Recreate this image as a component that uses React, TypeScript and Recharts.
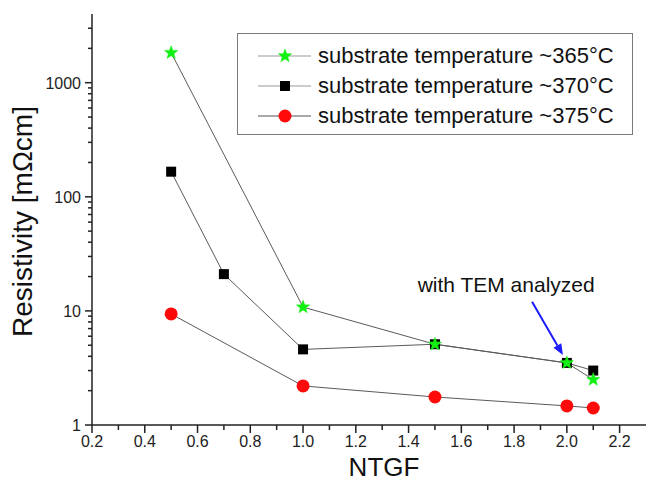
import React from 'react';
import {
  LineChart,
  Line,
  XAxis,
  YAxis,
  Legend,
  ReferenceLine,
  ReferenceDot,
} from 'recharts';

// NTGF values and resistivity [mOhm cm] for the three substrate temperatures
const NTGF_365 = [0.5, 1.0, 1.5, 2.0, 2.1];
const RHO_365 = [1830, 10.8, 5.1, 3.5, 2.5];

const NTGF_370 = [0.5, 0.7, 1.0, 1.5, 2.0, 2.1];
const RHO_370 = [166, 21, 4.6, 5.1, 3.5, 3.0];

const NTGF_375 = [0.5, 1.0, 1.5, 2.0, 2.1];
const RHO_375 = [9.4, 2.2, 1.76, 1.47, 1.41];

const X_TICKS = [0.2, 0.3, 0.4, 0.5, 0.6, 0.7, 0.8, 0.9, 1.0, 1.1, 1.2, 1.3, 1.4, 1.5, 1.6, 1.7, 1.8, 1.9, 2.0, 2.1, 2.2];
const X_MAJOR = [0.2, 0.4, 0.6, 0.8, 1.0, 1.2, 1.4, 1.6, 1.8, 2.0, 2.2];
const Y_TICKS = [
  1, 2, 3, 4, 5, 6, 7, 8, 9,
  10, 20, 30, 40, 50, 60, 70, 80, 90,
  100, 200, 300, 400, 500, 600, 700, 800, 900,
  1000, 2000, 3000,
];
const Y_MAJOR = [1, 10, 100, 1000];

const LEGEND_LABELS = [
  'substrate temperature ~365°C',
  'substrate temperature ~370°C',
  'substrate temperature ~375°C',
];

const ANNOTATION = 'with TEM analyzed';
const ANNOT_AT = { x: 1.77, y: 17 };
const ARROW_FROM = { x: 1.868, y: 12 };
const ARROW_TO = { x: 1.985, y: 4.1 };

const FONT = '"Liberation Sans", Arial, sans-serif';
const AXIS = '#222';
const SERIES_LINE = '#5a5a5a';
const GREEN = '#11f011';
const RED = '#ff0a0a';

const toRows = (xs: number[], ys: number[]) => xs.map((x, i) => ({ x, y: ys[i] }));

const isIn = (list: number[], v: number) => list.some((m) => Math.abs(m - v) < 1e-6);

const starPath = (cx: number, cy: number, ro: number, ri: number) => {
  let d = '';
  for (let i = 0; i < 10; i++) {
    const r = i % 2 === 0 ? ro : ri;
    const a = -Math.PI / 2 + (i * Math.PI) / 5;
    d += `${i === 0 ? 'M' : 'L'}${cx + r * Math.cos(a)},${cy + r * Math.sin(a)}`;
  }
  return d + 'Z';
};

const Star = ({ cx, cy }: { cx: number; cy: number }) => (
  <path d={starPath(cx, cy, 7, 2.9)} fill={GREEN} stroke={GREEN} strokeWidth={0.5} />
);
const Square = ({ cx, cy }: { cx: number; cy: number }) => (
  <rect x={cx - 5} y={cy - 5} width={10} height={10} fill="#000" />
);
const Circle = ({ cx, cy }: { cx: number; cy: number }) => (
  <circle cx={cx} cy={cy} r={6.5} fill={RED} />
);

const MARKERS = [Star, Square, Circle];

// custom ticks: tickSize/tickMargin are 0, so x/y sit on the axis line
const BottomTick = ({ x, y, payload }: any) => {
  const major = isIn(X_MAJOR, payload.value);
  return (
    <g>
      <line x1={x} y1={y} x2={x} y2={y + (major ? 8 : 5)} stroke={AXIS} strokeWidth={1.5} />
      {major && (
        <text x={x} y={y + 22} textAnchor="middle" fontSize={16} fontFamily={FONT} fill={AXIS}>
          {payload.value.toFixed(1)}
        </text>
      )}
    </g>
  );
};

const TopTick = ({ x, y, payload }: any) => {
  const major = isIn(X_MAJOR, payload.value);
  return <line x1={x} y1={y} x2={x} y2={y + (major ? 8 : 6)} stroke={AXIS} strokeWidth={1.5} />;
};

const LeftTick = ({ x, y, payload }: any) => {
  const major = isIn(Y_MAJOR, payload.value);
  return (
    <g>
      <line x1={x} y1={y} x2={x - (major ? 7 : 4)} y2={y} stroke={AXIS} strokeWidth={1.5} />
      {major && (
        <text x={x - 11} y={y + 6} textAnchor="end" fontSize={16} fontFamily={FONT} fill={AXIS}>
          {payload.value}
        </text>
      )}
    </g>
  );
};

const RightTick = ({ x, y, payload }: any) => {
  const major = isIn(Y_MAJOR, payload.value);
  return <line x1={x} y1={y} x2={x - (major ? 8 : 5)} y2={y} stroke={AXIS} strokeWidth={1.5} />;
};

const Arrow = ({ x1, y1, x2, y2 }: any) => {
  const a = Math.atan2(y2 - y1, x2 - x1);
  const len = 11;
  const w = 4.5;
  const bx = x2 - len * Math.cos(a);
  const by = y2 - len * Math.sin(a);
  const px = -Math.sin(a) * w;
  const py = Math.cos(a) * w;
  return (
    <g>
      <line x1={x1} y1={y1} x2={bx} y2={by} stroke="#1a1aff" strokeWidth={2} />
      <path d={`M${x2},${y2}L${bx + px},${by + py}L${bx - px},${by - py}Z`} fill="#1a1aff" />
    </g>
  );
};

const AnnotationText = ({ cx, cy }: any) => (
  <text x={cx} y={cy + 7} textAnchor="middle" fontSize={21} fontFamily={FONT} fill="#111">
    {ANNOTATION}
  </text>
);

const LegendBox = () => (
  <div
    style={{
      width: 394,
      height: 100,
      border: '1px solid #7a7a7a',
      background: '#fff',
      position: 'relative',
      fontFamily: FONT,
    }}
  >
    {LEGEND_LABELS.map((label, i) => {
      const Marker = MARKERS[i];
      return (
        <div key={label} style={{ position: 'absolute', left: 0, top: 7 + i * 30, height: 30, display: 'flex', alignItems: 'center' }}>
          <svg width={80} height={30}>
            <line x1={20} y1={15} x2={73} y2={15} stroke={i === 2 ? '#555' : '#999'} strokeWidth={1.2} />
            <Marker cx={47} cy={15} />
          </svg>
          <span style={{ fontSize: 22, color: '#111', whiteSpace: 'nowrap' }}>{label}</span>
        </div>
      );
    })}
  </div>
);

const YTitle = ({ viewBox }: any) => {
  const cy = viewBox.y + viewBox.height / 2;
  return (
    <text
      x={0}
      y={0}
      transform={`translate(32, ${cy + 2}) rotate(-90)`}
      textAnchor="middle"
      fontSize={28}
      fontFamily={FONT}
      fill="#111"
    >
      Resistivity [mΩcm]
    </text>
  );
};

const XTitle = ({ viewBox }: any) => (
  <text x={viewBox.x + 292} y={viewBox.y + 51} textAnchor="middle" fontSize={26} fontFamily={FONT} fill="#111">
    NTGF
  </text>
);

export default function App() {
  const rows365 = toRows(NTGF_365, RHO_365);
  const rows370 = toRows(NTGF_370, RHO_370);
  const rows375 = toRows(NTGF_375, RHO_375);

  return (
    <div style={{ position: 'absolute', left: 0, top: 0, width: 646, height: 487, background: '#fff' }}>
      <LineChart width={646} height={487} margin={{ top: 14, right: 0, bottom: 0, left: 0 }}>
        <XAxis
          dataKey="x"
          type="number"
          domain={[0.2, 2.3]}
          ticks={X_TICKS}
          interval={0}
          allowDataOverflow
          height={62}
          tickSize={0}
          tickMargin={0}
          tickLine={false}
          axisLine={{ stroke: AXIS, strokeWidth: 1.5 }}
          tick={<BottomTick />}
          label={<XTitle />}
        />
        <XAxis
          xAxisId="top"
          dataKey="x"
          type="number"
          orientation="top"
          domain={[0.2, 2.3]}
          ticks={X_TICKS}
          interval={0}
          allowDataOverflow
          height={0}
          tickSize={0}
          tickMargin={0}
          tickLine={false}
          axisLine={{ stroke: AXIS, strokeWidth: 1.5 }}
          tick={<TopTick />}
        />
        <YAxis
          type="number"
          scale="log"
          domain={[1, 4000]}
          ticks={Y_TICKS}
          interval={0}
          allowDataOverflow
          width={92}
          tickSize={0}
          tickMargin={0}
          tickLine={false}
          axisLine={{ stroke: AXIS, strokeWidth: 1.5 }}
          tick={<LeftTick />}
          label={<YTitle />}
        />
        <YAxis
          yAxisId="right"
          orientation="right"
          type="number"
          scale="log"
          domain={[1, 4000]}
          ticks={Y_TICKS}
          interval={0}
          allowDataOverflow
          width={0}
          tickSize={0}
          tickMargin={0}
          tickLine={false}
          axisLine={{ stroke: AXIS, strokeWidth: 1.5 }}
          tick={<RightTick />}
        />
        <Legend
          layout="vertical"
          align="center"
          verticalAlign="middle"
          wrapperStyle={{ top: 33, left: 237, width: 396 }}
          content={() => <LegendBox />}
        />
        <Line
          data={rows375}
          dataKey="y"
          name={LEGEND_LABELS[2]}
          type="linear"
          stroke={SERIES_LINE}
          strokeWidth={1}
          isAnimationActive={false}
          dot={(p: any) => <Circle key={`c-${p.index}`} cx={p.cx} cy={p.cy} />}
          activeDot={false}
        />
        <Line
          data={rows370}
          dataKey="y"
          name={LEGEND_LABELS[1]}
          type="linear"
          stroke={SERIES_LINE}
          strokeWidth={1}
          isAnimationActive={false}
          dot={(p: any) => <Square key={`s-${p.index}`} cx={p.cx} cy={p.cy} />}
          activeDot={false}
        />
        <Line
          data={rows365}
          dataKey="y"
          name={LEGEND_LABELS[0]}
          type="linear"
          stroke={SERIES_LINE}
          strokeWidth={1}
          isAnimationActive={false}
          dot={(p: any) => <Star key={`t-${p.index}`} cx={p.cx} cy={p.cy} />}
          activeDot={false}
        />
        <ReferenceLine
          segment={[ARROW_FROM, ARROW_TO]}
          ifOverflow="visible"
          shape={(p: any) => <Arrow {...p} />}
        />
        <ReferenceDot
          x={ANNOT_AT.x}
          y={ANNOT_AT.y}
          r={0}
          ifOverflow="visible"
          shape={(p: any) => <AnnotationText {...p} />}
        />
      </LineChart>
    </div>
  );
}
